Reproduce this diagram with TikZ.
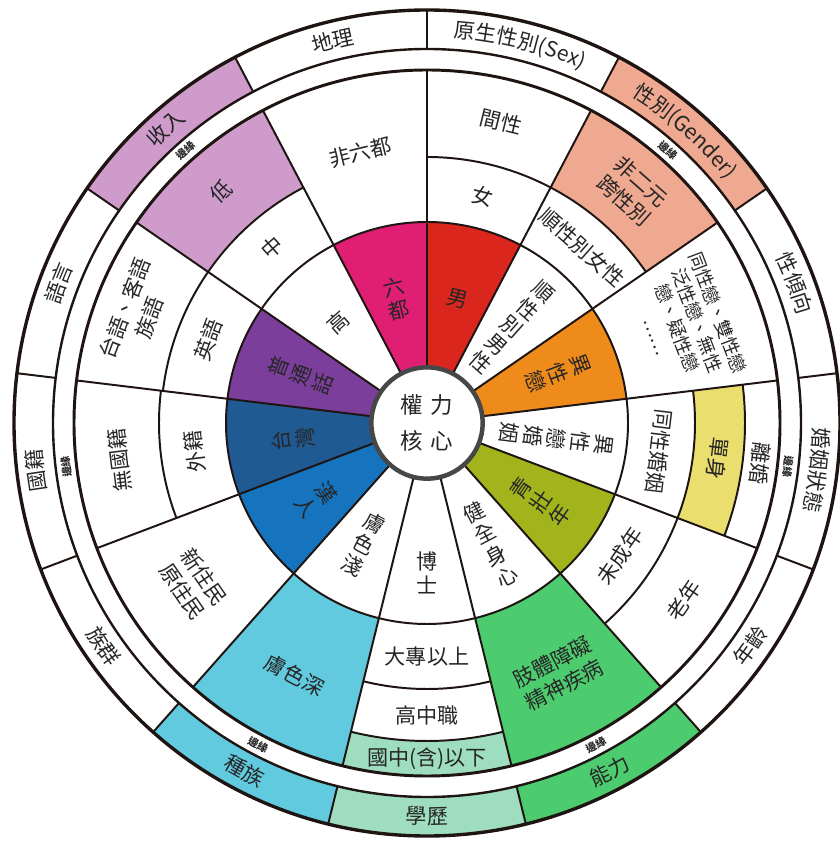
\documentclass[tikz,border=0pt]{standalone}
\usepackage{fontspec}
\setmainfont{Noto Sans CJK TC}
\usetikzlibrary{decorations.text}

\definecolor{inkline}{HTML}{1E1412}
\definecolor{inktext}{HTML}{262626}
\definecolor{coregray}{HTML}{474747}
\definecolor{liudu}{HTML}{E01F74}
\definecolor{malered}{HTML}{DA261D}
\definecolor{heteroorange}{HTML}{EF8B1B}
\definecolor{youngolive}{HTML}{A2B41C}
\definecolor{ablegreen}{HTML}{4DCC6F}
\definecolor{edumint}{HTML}{9EDDBF}
\definecolor{skincyan}{HTML}{62CADF}
\definecolor{hanblue}{HTML}{1674BE}
\definecolor{twnavy}{HTML}{1F5A92}
\definecolor{langpurple}{HTML}{7B3E9B}
\definecolor{lowlilac}{HTML}{CE9BCB}
\definecolor{gendersalmon}{HTML}{EFA990}
\definecolor{singleyellow}{HTML}{EADE6E}

\newcommand{\secang}{27.6923}
\newcommand{\bandfont}{\fontsize{15pt}{18pt}\selectfont}

% filled ring segment: sector, inner radius, outer radius, colour
\newcommand{\cellfill}[4]{%
  \fill[#4] ({90-#1*\secang}:#2) arc[start angle={90-#1*\secang}, end angle={90-(#1+1)*\secang}, radius=#2]
    -- ({90-(#1+1)*\secang}:#3) arc[start angle={90-(#1+1)*\secang}, end angle={90-#1*\secang}, radius=#3] -- cycle;}
% division arc inside one sector
\newcommand{\cellarc}[2]{%
  \draw[cellline] ({90-#1*\secang}:#2) arc[start angle={90-#1*\secang}, end angle={90-(#1+1)*\secang}, radius=#2];}
% category names on the outer ring
\newcommand{\bandtop}[2]{%
  \path[decorate, decoration={text along path, text={|\bandfont|#2}, text align=center, text color=inktext}]
    ({76.1538-#1*\secang+13.5}:386) arc[start angle={76.1538-#1*\secang+13.5}, end angle={76.1538-#1*\secang-13.5}, radius=386];}
\newcommand{\bandbot}[2]{%
  \path[decorate, decoration={text along path, text={|\bandfont|#2}, text align=center, text color=inktext}]
    ({76.1538-#1*\secang-13.5}:401) arc[start angle={76.1538-#1*\secang-13.5}, end angle={76.1538-#1*\secang+13.5}, radius=401];}

\tikzset{
  cellline/.style={draw=inkline, line width=1.4pt},
  lbl/.style={text=inktext, inner sep=0pt, align=center, font=\fontsize{15pt}{18.5pt}\selectfont},
  collbl/.style={lbl, font=\fontsize{15pt}{17pt}\selectfont},
  smalllbl/.style={lbl, font=\fontsize{13pt}{15.5pt}\selectfont},
  edgelbl/.style={text=inktext, inner sep=0pt, font=\fontsize{7.5pt}{8pt}\selectfont\bfseries},
  corelbl/.style={text=inktext, inner sep=0pt, align=center, font=\fontsize{16pt}{26pt}\selectfont}
}

\begin{document}
\begin{tikzpicture}[x=0.025cm, y=0.025cm]
\useasboundingbox (-427,-422) rectangle (412,423);

% coloured cells
\cellfill{0}{30}{201}{malered}
\cellfill{1}{267}{353}{gendersalmon}
\cellfill{2}{30}{201}{heteroorange}
\cellfill{3}{268}{318}{singleyellow}
\cellfill{4}{30}{201}{youngolive}
\cellfill{5}{201}{353}{ablegreen}
\cellfill{6}{318}{353}{edumint}
\cellfill{7}{201}{353}{skincyan}
\cellfill{8}{30}{201}{hanblue}
\cellfill{9}{30}{201}{twnavy}
\cellfill{10}{30}{201}{langpurple}
\cellfill{11}{267}{353}{lowlilac}
\cellfill{12}{30}{201}{liudu}

% coloured categories on the outer ring
\cellfill{1}{374}{413}{gendersalmon}
\cellfill{5}{374}{413}{ablegreen}
\cellfill{6}{374}{413}{edumint}
\cellfill{7}{374}{413}{skincyan}
\cellfill{11}{374}{413}{lowlilac}

% arcs between levels
\foreach \k in {0,...,12} {\cellarc{\k}{201}}
\foreach \k in {0,1,6,10,11} {\cellarc{\k}{266}}
\foreach \k in {3,4,9} {\cellarc{\k}{268}}
\foreach \k in {3,6} {\cellarc{\k}{318}}

% spokes
\foreach \k in {0,...,12} {
  \draw[cellline] ({90-\k*\secang}:40) -- ({90-\k*\secang}:353);
  \draw[cellline] ({90-\k*\secang}:374) -- ({90-\k*\secang}:413);
}

% rings
\draw[draw=inkline, line width=2.1pt] (0,0) circle (353);
\draw[draw=inkline, line width=1.7pt] (0,0) circle (374);
\draw[draw=inkline, line width=2.4pt] (0,0) circle (413);

% core
\draw[draw=coregray, line width=3.2pt, fill=white] (0,0) circle (55.7);
\node[corelbl] (core) at (0,0) {權\hspace{5pt}力\\核\hspace{5pt}心};

% sex
\node[lbl, rotate=-13.8462] (male) at (76.1538:128) {男};
\node[lbl, rotate=-13.8462] (female) at (76.1538:234) {女};
\node[lbl, rotate=-13.8462] (intersex) at (76.1538:310) {間性};
% gender
\node[collbl, rotate=-41.5385] (cisman) at (48.4615:128) {順\\性\\別\\男\\性};
\node[lbl, rotate=-41.5385] (ciswoman) at (48.4615:234) {順性別女性};
\node[lbl, rotate=-41.5385] (nonbinary) at (48.4615:310) {非二元\\跨性別};
\node[edgelbl, rotate=-41.5385] (edgegender) at (48.4615:363.5) {邊緣};
% orientation
\node[collbl, rotate=-69.2308] (hetero) at (20.7692:140) {異\\性\\戀};
\node[smalllbl, rotate=-69.2308] (queer) at (20.7692:279) {同性戀、雙性戀\\泛性戀、無性\\戀、疑性戀\\……};
% marriage
\node[collbl, rotate=-96.9231] (hetmarriage) at (-6.9231:130) {異\\性\\戀\\婚\\姻};
\node[lbl, rotate=-96.9231] (samemarriage) at (-6.9231:234) {同性婚姻};
\node[lbl, rotate=-96.9231] (single) at (-6.9231:293) {單身};
\node[lbl, rotate=-96.9231] (divorce) at (-6.9231:335.5) {離婚};
\node[edgelbl, rotate=-96.9231] (edgemarriage) at (-6.9231:363.5) {邊緣};
% age
\node[collbl, rotate=55.3846] (young) at (-34.6154:138) {青\\壯\\年};
\node[lbl, rotate=55.3846] (minor) at (-34.6154:234) {未成年};
\node[lbl, rotate=55.3846] (elder) at (-34.6154:312) {老年};
% ability
\node[collbl, rotate=27.6923] (ablebody) at (-62.3077:137) {健\\全\\身\\心};
\node[lbl, rotate=27.6923] (disabled) at (-62.3077:283) {肢體障礙\\精神疾病};
\node[edgelbl, rotate=27.6923] (edgeability) at (-62.3077:363.5) {邊緣};
% education
\node[collbl] (phd) at (-90:150) {博\\士};
\node[lbl] (college) at (-90:234) {大專以上};
\node[lbl] (senior) at (-90:292) {高中職};
\node[lbl] (junior) at (-90:335.5) {國中(含)以下};
% race
\node[collbl, rotate=-27.6923] (lightskin) at (-117.6923:137) {膚\\色\\淺};
\node[lbl, rotate=-27.6923] (darkskin) at (-117.6923:285) {膚色深};
\node[edgelbl, rotate=-27.6923] (edgerace) at (-117.6923:363.5) {邊緣};
% ethnicity
\node[collbl, rotate=-55.3846] (han) at (-145.3846:135) {漢\\人};
\node[lbl, rotate=-55.3846] (newnative) at (-145.3846:284) {新住民\\原住民};
% nationality
\node[collbl, rotate=96.9231] (taiwan) at (-173.0769:135) {台\\灣};
\node[lbl, rotate=96.9231] (foreign) at (-173.0769:234) {外籍};
\node[lbl, rotate=96.9231] (stateless) at (-173.0769:310) {無國籍};
\node[edgelbl, rotate=96.9231] (edgenation) at (-173.0769:363.5) {邊緣};
% language
\node[collbl, rotate=69.2308] (mandarin) at (159.2308:135) {普\\通\\話};
\node[lbl, rotate=69.2308] (english) at (159.2308:234) {英語};
\node[lbl, rotate=69.2308] (locallang) at (159.2308:310) {台語、客語\\族語};
% income
\node[lbl, rotate=41.5385] (high) at (131.5385:134) {高};
\node[lbl, rotate=41.5385] (middle) at (131.5385:234) {中};
\node[lbl, rotate=41.5385] (low) at (131.5385:310) {低};
\node[edgelbl, rotate=41.5385] (edgeincome) at (131.5385:363.5) {邊緣};
% geography
\node[collbl, rotate=13.8462] (sixcity) at (103.8462:128) {六\\都};
\node[lbl, rotate=13.8462] (nonsix) at (103.8462:279) {非六都};

% category names
\bandtop{0}{原生性別(Sex)}
\bandtop{1}{性別(Gender)}
\bandtop{2}{性傾向}
\bandtop{3}{婚姻狀態}
\bandbot{4}{年齡}
\bandbot{5}{能力}
\bandbot{6}{學歷}
\bandbot{7}{種族}
\bandbot{8}{族群}
\bandtop{9}{國籍}
\bandtop{10}{語言}
\bandtop{11}{收入}
\bandtop{12}{地理}
\end{tikzpicture}
\end{document}
